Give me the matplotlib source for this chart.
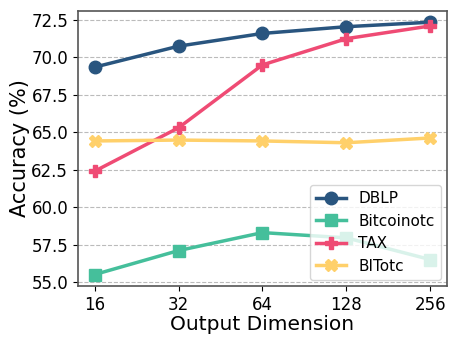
import matplotlib.pyplot as plt
import numpy as np

dims = ['16', '32', '64', '128', '256']
dblp = [69.35, 70.75, 71.6, 72.05, 72.35]
bitcoinotc = [55.5, 57.1, 58.3, 57.95, 56.5]
tax = [62.4, 65.3, 69.5, 71.25, 72.1]
bitotc = [64.42, 64.48, 64.42, 64.3, 64.62]

series = [
	('DBLP', dblp, '#29557f', 'o'),
	('Bitcoinotc', bitcoinotc, '#45bf9b', 's'),
	('TAX', tax, '#ef4b74', 'P'),
	('BITotc', bitotc, '#ffd06a', 'X'),
]

fig, ax = plt.subplots(figsize=(4.58, 3.43), dpi=100)
x = np.arange(len(dims))
for name, vals, color, marker in series:
	ax.plot(x, vals, color=color, marker=marker, markersize=9, linewidth=2.5, label=name)

ax.set_xticks(x)
ax.set_xticklabels(dims)
ax.set_ylim(54.73, 73.1)
ax.set_yticks([55.0, 57.5, 60.0, 62.5, 65.0, 67.5, 70.0, 72.5])
ax.yaxis.grid(True, linestyle='--', color='#bbbbbb', linewidth=0.8)
ax.set_axisbelow(True)
ax.tick_params(labelsize=12)
for s in ax.spines.values():
	s.set_color('#555555')
	s.set_linewidth(1.2)

ax.set_xlabel('Output Dimension', fontsize=14.5, labelpad=1)
ax.set_ylabel('Accuracy (%)', fontsize=15, labelpad=1)
ax.legend(loc='lower right', fontsize=11, handlelength=2.0, borderaxespad=0.4)

plt.subplots_adjust(left=0.17, right=0.976, top=0.968, bottom=0.166)
plt.savefig('out.png')
